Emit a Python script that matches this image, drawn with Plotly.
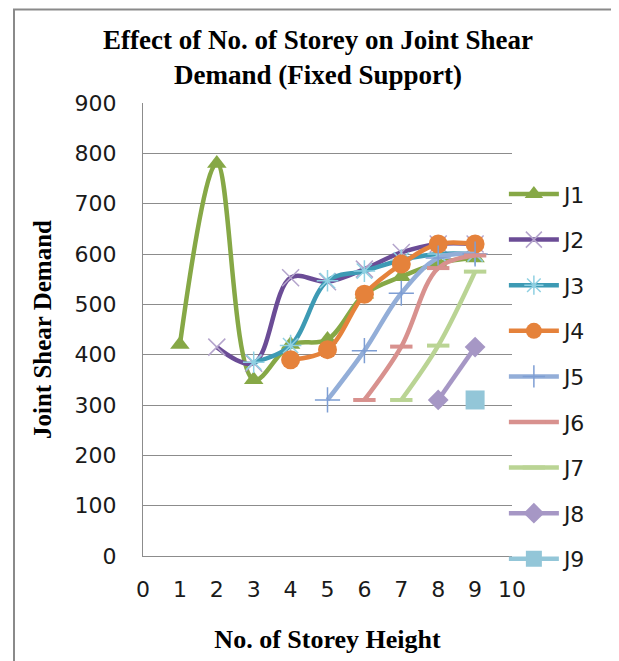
import plotly.graph_objects as go

STOREYS = [1, 2, 3, 4, 5, 6, 7, 8, 9]
SERIES_NAMES = ["J1", "J2", "J3", "J4", "J5", "J6", "J7", "J8", "J9"]
J1 = [420, 780, 350, 420, 430, 520, 555, 582, 592]
J2 = [415, 383, 553, 545, 570, 603, 620, 620]
J3 = [385, 418, 547, 566, 588, 600, 600]
J4 = [390, 410, 520, 580, 620, 620]
J5 = [310, 408, 522, 592, 600]
J6 = [310, 416, 572, 597]
J7 = [310, 418, 565]
J8 = [310, 415]
J9 = [310]
SERIES_VALUES = [J1, J2, J3, J4, J5, J6, J7, J8, J9]
X_TICKS = list(range(0, 11))
Y_TICKS = list(range(0, 1000, 100))

LINE_COLORS = ["#86A846", "#6B4C96", "#3D9AB4", "#E5823B", "#93AED8",
               "#D8918E", "#BAD494", "#A697C5", "#93C6D8"]
MARKER_COLORS = ["#86A846", "#B4A4CC", "#8FD0E2", "#E5823B", "#7E9ED4",
                 "#D8918E", "#BAD494", "#A697C5", "#93C6D8"]
SYMBOLS = ["triangle-up", "x-thin", "asterisk", "circle", "cross-thin",
           "line-ew", "line-ew", "diamond", "square"]
SIZES = [17, 17, 18, 19, 18, 16, 16, 16, 19]

TITLE_FONT = dict(family="Liberation Serif", size=27, color="#000000")
AXIS_TITLE_FONT = dict(family="Liberation Serif", size=26, color="#000000")
Y_TITLE_FONT = dict(family="Liberation Serif", size=25, color="#000000")
TICK_FONT = dict(family="DejaVu Sans", size=22, color="#1a1a1a")

# page is offset by the browser's 8px body margin
FIG_W, FIG_H = 611, 653
L, T, PW, PH = 135, 95, 369, 456

fig = go.Figure()
for i, (name, vals) in enumerate(zip(SERIES_NAMES, SERIES_VALUES)):
    xs = STOREYS[i:i + len(vals)]
    open_sym = SYMBOLS[i] in ("x-thin", "asterisk", "cross-thin", "line-ew")
    marker = dict(symbol=SYMBOLS[i], size=SIZES[i], color=MARKER_COLORS[i])
    if open_sym:
        marker["line"] = dict(color=MARKER_COLORS[i], width=4 if SYMBOLS[i] == "line-ew" else 1.5)
    fig.add_trace(go.Scatter(
        x=xs, y=vals, name=name, mode="lines+markers",
        line=dict(color=LINE_COLORS[i], width=4.5, shape="spline", smoothing=1),
        marker=marker, legendgroup=name,
    ))

fig.add_shape(type="rect", xref="paper", yref="paper",
              x0=(6 - L) / PW, x1=(609 - L) / PW,
              y0=-0.4, y1=1 + (T - 1) / PH,
              line=dict(color="#8a8a8a", width=2), layer="below")

fig.update_layout(
    width=FIG_W, height=FIG_H,
    margin=dict(l=L, r=FIG_W - L - PW, t=T, b=FIG_H - T - PH),
    paper_bgcolor="white", plot_bgcolor="white",
    title=dict(text="<b>Effect of No. of Storey on Joint Shear<br>Demand (Fixed Support)</b>",
               font=TITLE_FONT, x=310 / FIG_W, xanchor="center", y=0.937, yanchor="top"),
    xaxis=dict(range=[0, 10], tickvals=X_TICKS, showgrid=False, zeroline=False,
               showline=True, linecolor="#8c8c8c", linewidth=1, ticks="",
               tickfont=TICK_FONT, ticklabelstandoff=14,
               title=dict(text="<b>No. of Storey Height</b>", font=AXIS_TITLE_FONT, standoff=28)),
    yaxis=dict(range=[0, 900], tickvals=Y_TICKS, showgrid=True, gridcolor="#8c8c8c",
               gridwidth=1, zeroline=False, showline=True, linecolor="#8c8c8c",
               linewidth=1, ticks="", tickfont=TICK_FONT, ticklabelstandoff=21,
               title=dict(text="<b>Joint Shear Demand</b>", font=Y_TITLE_FONT, standoff=15)),
    legend=dict(x=0.978, xanchor="left", y=0.845, yanchor="top", font=TICK_FONT,
                tracegroupgap=14, bgcolor="rgba(0,0,0,0)", itemwidth=50),
    showlegend=True,
)

fig.write_html("out.html")
